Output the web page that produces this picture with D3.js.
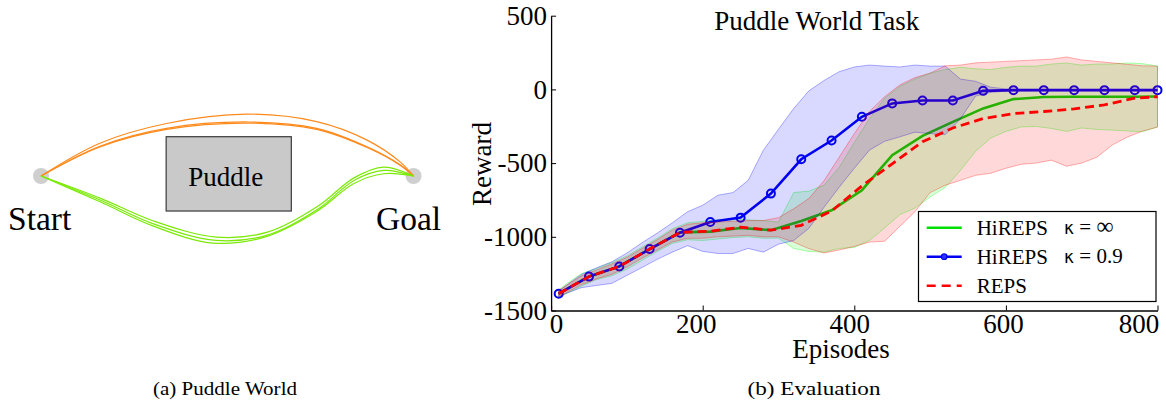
<!DOCTYPE html>
<html>
<head>
<meta charset="utf-8">
<script src="https://cdn.jsdelivr.net/npm/d3@7"></script>
<style>
  html, body { margin: 0; padding: 0; background: #fff; }
  svg { display: block; }
  text { font-family: "Liberation Serif", "Times New Roman", serif; fill: #000; }
</style>
</head>
<body>
<svg id="fig" width="1166" height="402"></svg>
<script>
// ---------- (a) Puddle world: trajectories in world units (start = 0, goal = 10) ----------
const puddleRect = { x0: 3.36, x1: 6.72, y0: -0.94, y1: 1.055 };
const startPos = [0, 0];
const goalPos = [10, 0];
const orangePaths = [
  [[0,0],[1.58,0.88],[3.37,1.41],[5.52,1.66],[7.40,1.46],[8.74,0.97],[9.64,0.38],[10,0]],
  [[0,0],[1.58,0.80],[3.37,1.28],[5.58,1.45],[7.40,1.28],[8.74,0.79],[9.64,0.30],[10,0]],
  [[0,0],[1.58,0.78],[3.37,1.25],[5.58,1.42],[7.40,1.25],[8.74,0.77],[9.64,0.29],[10,0]]
];
const greenPaths = [
  [[0,0],[1.6,-0.60],[3.0,-1.20],[4.7,-1.64],[6.1,-1.50],[7.45,-0.80],[8.4,-0.05],[9.2,0.24],[10,0]],
  [[0,0],[1.6,-0.65],[3.0,-1.28],[4.7,-1.73],[6.1,-1.58],[7.45,-0.88],[8.4,-0.12],[9.2,0.15],[10,0]],
  [[0,0],[1.6,-0.70],[3.0,-1.34],[4.6,-1.80],[6.0,-1.64],[7.4,-0.95],[8.4,-0.20],[9.2,0.06],[10,0]]
];

// ---------- (b) Evaluation: reward vs. episodes ----------
const lineEpisodes = [10,50,90,130,170,210,250,290,330,370,410,450,490,530,570,610,650,690,730,770,800];
const hirepsInf = [-1386,-1269,-1201,-1083,-970,-965,-940,-955,-893,-820,-684,-446,-315,-220,-129,-66,-52,-50,-50,-50,-48];
const hireps09  = [-1386,-1270,-1201,-1083,-972,-900,-870,-707,-474,-347,-186,-95,-75,-75,-10,-5,-5,-5,-5,-5,-5];
const reps      = [-1386,-1269,-1201,-1083,-970,-962,-935,-955,-922,-825,-655,-505,-355,-262,-198,-164,-150,-132,-105,-59,-50];

const bandEpisodes = [10,20,40,60,80,100,120,140,160,180,200,220,240,260,280,300,320,340,360,380,400,
                      420,440,460,480,500,520,540,560,580,600,620,640,660,680,700,720,740,760,780,800];
const hireps09Upper = [-1370,-1330,-1255,-1210,-1170,-1110,-1040,-975,-905,-830,-786,-718,-700,-617,-413,-270,-130,-10,60,120,152,
                       165,158,152,165,158,158,70,55,15,3,0,0,0,0,0,0,0,0,0,0];
const hireps09Lower = [-1405,-1384,-1345,-1330,-1316,-1262,-1208,-1153,-1104,-1060,-1099,-1113,-1113,-1079,-1104,-1050,-1025,-943,-800,-664,-535,
                       -412,-352,-322,-290,-300,-306,-200,-45,-20,-12,-10,-10,-10,-10,-10,-10,-10,-10,-10,-10];
const hirepsInfUpper = [-1360,-1320,-1250,-1215,-1175,-1130,-1070,-1010,-945,-905,-895,-885,-880,-885,-890,-900,-700,-690,-650,-530,-360,
                        -200,-60,20,70,110,135,150,140,135,150,158,158,172,179,165,172,172,179,175,158];
const hirepsInfLower = [-1410,-1385,-1335,-1290,-1265,-1220,-1160,-1100,-1045,-1020,-1025,-1015,-1005,-1000,-1010,-1010,-1079,-1099,-1104,-1079,-1072,
                        -1024,-940,-850,-805,-730,-665,-550,-420,-330,-285,-255,-252,-265,-285,-262,-272,-276,-282,-288,-254];
const repsUpper = [-1365,-1330,-1265,-1225,-1185,-1140,-1080,-1020,-955,-915,-905,-900,-895,-890,-890,-870,-810,-740,-620,-460,-300,
                   -150,-50,30,80,110,160,165,180,185,190,195,200,205,220,200,190,180,170,160,158];
const repsLower = [-1405,-1380,-1325,-1285,-1255,-1205,-1145,-1090,-1035,-1010,-1010,-1000,-995,-990,-1000,-1000,-1036,-1080,-1110,-1090,-1065,
                   -1036,-1030,-930,-830,-700,-650,-617,-583,-569,-535,-508,-500,-480,-521,-500,-460,-378,-324,-283,-256];

const xTicks = [0, 200, 400, 600, 800];
const yTicks = [-1500, -1000, -500, 0, 500];
const legendLabels = ["HiREPS", "HiREPS", "REPS"];
const legendKappa = ["∞", "0.9", null];

const svg = d3.select("#fig");

// ===== Panel (a) =====
const wx = d3.scaleLinear().domain([0, 10]).range([41, 413.5]);
const wy = d3.scaleLinear().domain([0, 1]).range([176, 176 - 37.25]);
const worldLine = d3.line().x(d => wx(d[0])).y(d => wy(d[1])).curve(d3.curveCatmullRom.alpha(0.5));

const pa = svg.append("g");
pa.append("rect")
  .attr("x", wx(puddleRect.x0)).attr("y", wy(puddleRect.y1))
  .attr("width", wx(puddleRect.x1) - wx(puddleRect.x0))
  .attr("height", wy(puddleRect.y0) - wy(puddleRect.y1))
  .attr("fill", "#c9c9c9").attr("stroke", "#3a3a3a").attr("stroke-width", 1.2);
pa.append("text")
  .attr("x", (wx(puddleRect.x0) + wx(puddleRect.x1)) / 2 - 3).attr("y", 186)
  .attr("text-anchor", "middle").style("font-size", "27px").text("Puddle");

[startPos, goalPos].forEach(p => {
  pa.append("circle").attr("cx", wx(p[0])).attr("cy", wy(p[1])).attr("r", 8).attr("fill", "#cfcfcf");
});
orangePaths.forEach(p => {
  pa.append("path").attr("d", worldLine(p)).attr("fill", "none")
    .attr("stroke", "#ff8a1c").attr("stroke-width", 1.2);
});
greenPaths.forEach(p => {
  pa.append("path").attr("d", worldLine(p)).attr("fill", "none")
    .attr("stroke", "#7bea08").attr("stroke-width", 1.2);
});
pa.append("text").attr("x", 8).attr("y", 229.5).style("font-size", "33.5px").text("Start");
pa.append("text").attr("x", 376).attr("y", 229.5).style("font-size", "33.5px").text("Goal");

pa.append("text").attr("x", 225).attr("y", 395).attr("text-anchor", "middle")
  .attr("textLength", 144).attr("lengthAdjust", "spacingAndGlyphs")
  .style("font-size", "18px").text("(a) Puddle World");

// ===== Panel (b) =====
const x = d3.scaleLinear().domain([0, 800]).range([551.1, 1157.5]);
const y = d3.scaleLinear().domain([-1500, 500]).range([310.5, 15.7]);

const pb = svg.append("g");

function bandData(lower, upper) {
  return bandEpisodes.map((e, i) => ({ e, lo: lower[i], hi: upper[i] }));
}
const area = d3.area().x(d => x(d.e)).y0(d => y(d.lo)).y1(d => y(d.hi));
const line = d3.line().x(d => x(d.e)).y(d => y(d.v));
const lineData = vals => lineEpisodes.map((e, i) => ({ e, v: vals[i] }));

function drawBand(lower, upper, color) {
  pb.append("path").datum(bandData(lower, upper)).attr("d", area)
    .attr("fill", color).attr("fill-opacity", 0.15)
    .attr("stroke", color).attr("stroke-opacity", 0.35).attr("stroke-width", 0.9);
}

// HiREPS kappa = inf
drawBand(hirepsInfLower, hirepsInfUpper, "#00ff00");
pb.append("path").datum(lineData(hirepsInf)).attr("d", line)
  .attr("fill", "none").attr("stroke", "#00d000").attr("stroke-width", 2.6);

// HiREPS kappa = 0.9
drawBand(hireps09Lower, hireps09Upper, "#0000ff");
pb.append("path").datum(lineData(hireps09)).attr("d", line)
  .attr("fill", "none").attr("stroke", "#0000f0").attr("stroke-width", 2.6);
pb.selectAll("circle.mk").data(lineData(hireps09)).join("circle")
  .attr("class", "mk").attr("cx", d => x(d.e)).attr("cy", d => y(d.v)).attr("r", 4)
  .attr("fill", "none").attr("stroke", "#0000f0").attr("stroke-width", 2);

// REPS
drawBand(repsLower, repsUpper, "#ff0000");
pb.append("path").datum(lineData(reps)).attr("d", line)
  .attr("fill", "none").attr("stroke", "#ff0000").attr("stroke-width", 2.8)
  .attr("stroke-dasharray", "9,5");

// Axes
const xAxis = d3.axisBottom(x).tickValues(xTicks).tickFormat(d => String(d))
  .tickSizeInner(-5).tickSizeOuter(0).tickPadding(3);
const yAxis = d3.axisLeft(y).tickValues(yTicks).tickFormat(d => String(d))
  .tickSizeInner(-5).tickSizeOuter(0).tickPadding(4);

const gx = pb.append("g").attr("transform", `translate(0,${y(-1500)})`).call(xAxis);
const gy = pb.append("g").attr("transform", `translate(${x(0)},0)`).call(yAxis);
[gx, gy].forEach(g => {
  g.select(".domain").attr("stroke", "#000").attr("stroke-width", 1.3);
  g.selectAll(".tick line").attr("stroke", "#000").attr("stroke-width", 1);
  g.selectAll(".tick text")
    .style("font-family", '"Liberation Serif", "Times New Roman", serif')
    .style("font-size", "27px").attr("fill", "#000");
});
// nudge the x tick labels so the first and last stay clear of the frame edges
const xLabelShift = { 0: 5, 200: -7, 400: -5, 600: -3, 800: -19 };
gx.selectAll(".tick text").attr("dx", d => xLabelShift[d]);

pb.append("text").attr("x", 816.7).attr("y", 29.5).attr("text-anchor", "middle")
  .style("font-size", "27px").text("Puddle World Task");
pb.append("text").attr("x", 841).attr("y", 358).attr("text-anchor", "middle")
  .style("font-size", "27px").text("Episodes");
pb.append("text").attr("transform", "translate(491,164) rotate(-90)").attr("text-anchor", "middle")
  .style("font-size", "27px").text("Reward");

// Legend
const lg = pb.append("g");
lg.append("rect").attr("x", 918.5).attr("y", 211.5).attr("width", 237.5).attr("height", 90)
  .attr("fill", "#fff").attr("stroke", "#000").attr("stroke-width", 1.2);
const legendColors = ["#00e000", "#0000f0", "#ff0000"];
legendLabels.forEach((lab, i) => {
  const cy = 227.7 + i * 29;
  const ln = lg.append("line").attr("x1", 926.7).attr("x2", 961.7).attr("y1", cy).attr("y2", cy)
    .attr("stroke", legendColors[i]).attr("stroke-width", 2.6);
  if (i === 2) ln.attr("stroke-dasharray", "9,6");
  if (i === 1) lg.append("circle").attr("cx", 944.2).attr("cy", cy).attr("r", 2.8)
    .attr("fill", "#3030ff").attr("stroke", "#0000f0").attr("stroke-width", 1.2);
  lg.append("text").attr("x", 976.7).attr("y", cy + 7.5).style("font-size", "21px").text(lab);
  if (legendKappa[i] !== null) {
    const t = lg.append("text").attr("x", 1064).attr("y", cy + 6.5).style("font-size", "21px");
    t.append("tspan").style("font-family", '"DejaVu Sans", sans-serif').style("font-size", "17px").text("κ");
    t.append("tspan").text(legendKappa[i] === "∞" ? " =  " : " = ");
    t.append("tspan").style("font-size", legendKappa[i] === "∞" ? "24px" : "21px").text(legendKappa[i]);
  }
});

pb.append("text").attr("x", 814).attr("y", 395).attr("text-anchor", "middle")
  .attr("textLength", 133).attr("lengthAdjust", "spacingAndGlyphs")
  .style("font-size", "18px").text("(b) Evaluation");
</script>
</body>
</html>
